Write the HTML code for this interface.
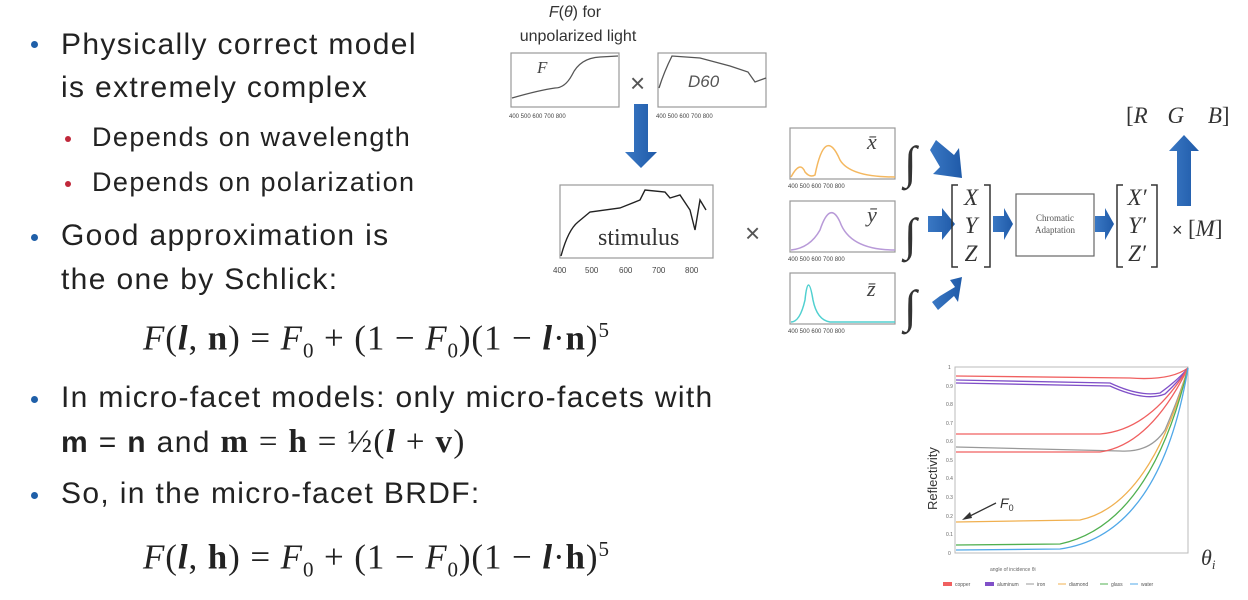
<!DOCTYPE html>
<html><head><meta charset="utf-8"><style>
body{margin:0;width:1248px;height:600px;background:#fff;position:relative;overflow:hidden;font-family:"Liberation Sans",sans-serif;color:#222}
.t{position:absolute;font-size:30px;line-height:30px;white-space:nowrap;letter-spacing:1.35px}
.s{position:absolute;font-size:27px;line-height:27px;white-space:nowrap;letter-spacing:1.4px}
.b{position:absolute;width:7px;height:7px;border-radius:50%;background:#1f5fa8}
.r{position:absolute;width:6px;height:6px;border-radius:50%;background:#c0283a}
.m{position:absolute;font-family:"Liberation Serif",serif;font-size:35px;line-height:35px;white-space:nowrap;letter-spacing:0.9px}
</style></head><body>
<div class="b" style="left:31px;top:41px"></div>
<div class="t" style="left:61px;top:30px">Physically correct model</div>
<div class="t" style="left:61px;top:73px">is extremely complex</div>
<div class="r" style="left:65px;top:136px"></div>
<div class="s" style="left:92px;top:124px">Depends on wavelength</div>
<div class="r" style="left:65px;top:181px"></div>
<div class="s" style="left:92px;top:169px">Depends on polarization</div>
<div class="b" style="left:31px;top:234px"></div>
<div class="t" style="left:61px;top:221px">Good approximation is</div>
<div class="t" style="left:61px;top:265px">the one by Schlick:</div>
<div class="m" style="left:143px;top:313px"><i>F</i>(<b><i>l</i></b>, <b>n</b>) = <i>F</i><sub style="font-size:21px">0</sub> + (1 − <i>F</i><sub style="font-size:21px">0</sub>)(1 − <b><i>l</i></b>·<b>n</b>)<sup style="font-size:21px">5</sup></div>
<div class="b" style="left:31px;top:396px"></div>
<div class="t" style="left:61px;top:383px">In micro-facet models: only micro-facets with</div>
<div class="t" style="left:61px;top:427px"><b>m</b> = <b>n</b> and <span style="font-family:'Liberation Serif',serif;font-size:33px"><b>m</b> = <b>h</b> = ½(<b><i>l</i></b> + <b>v</b>)</span></div>
<div class="b" style="left:31px;top:492px"></div>
<div class="t" style="left:61px;top:479px">So, in the micro-facet BRDF:</div>
<div class="m" style="left:143px;top:532px"><i>F</i>(<b><i>l</i></b>, <b>h</b>) = <i>F</i><sub style="font-size:21px">0</sub> + (1 − <i>F</i><sub style="font-size:21px">0</sub>)(1 − <b><i>l</i></b>·<b>h</b>)<sup style="font-size:21px">5</sup></div>

<svg width="1248" height="600" style="position:absolute;left:0;top:0" font-family="Liberation Serif, serif">
<defs><linearGradient id="g" x1="0" x2="1"><stop offset="0" stop-color="#3a78c4"/><stop offset="1" stop-color="#1f5aa8"/></linearGradient></defs>
<text x="575" y="17" font-family="Liberation Sans" font-size="16" text-anchor="middle" fill="#333"><tspan font-style="italic">F</tspan>(<tspan font-style="italic">θ</tspan>) for</text>
<text x="578" y="41" font-family="Liberation Sans" font-size="16" text-anchor="middle" fill="#333">unpolarized light</text>
<g fill="none" stroke="#999" stroke-width="1.2">
<rect x="511" y="53" width="108" height="54"/><rect x="658" y="53" width="108" height="54"/>
<rect x="560" y="185" width="153" height="73"/>
<rect x="790" y="128" width="105" height="51"/><rect x="790" y="201" width="105" height="51"/><rect x="790" y="273" width="105" height="51"/>
<rect x="1016" y="194" width="78" height="62" stroke="#666"/>
</g>
<path d="M512 98 Q540 90 555 88 Q565 88 572 75 Q580 58 600 57 L618 56" stroke="#555" fill="none" stroke-width="1.3"/>
<path d="M659 88 Q664 72 672 56 L700 58 L730 66 L748 72 L755 82 L766 78" stroke="#555" fill="none" stroke-width="1.3"/>
<path d="M561 256 Q568 230 578 222 L590 212 L620 208 L640 200 L645 190 L665 192 L670 198 L680 195 L690 210 L695 230 L700 200 L706 210" stroke="#222" fill="none" stroke-width="1.4"/>
<path d="M791 177 Q800 160 805 172 Q810 178 815 175 Q825 125 840 160 Q850 177 895 177" stroke="#f4b860" fill="none" stroke-width="1.5"/>
<path d="M791 250 Q810 248 820 230 Q830 200 840 222 Q850 250 895 250" stroke="#b89ad8" fill="none" stroke-width="1.5"/>
<path d="M791 322 Q800 322 805 300 Q808 270 813 300 Q817 320 830 322 L895 322" stroke="#50d0d0" fill="none" stroke-width="1.5"/>
<text x="537" y="73" font-size="17" font-style="italic" fill="#444">F</text>
<text x="688" y="87" font-family="Liberation Sans" font-size="17" font-style="italic" fill="#555">D60</text>
<text x="598" y="245" font-size="24" fill="#333">stimulus</text>
<g font-family="Liberation Sans" font-size="8" fill="#444">
<text x="553" y="273">400</text><text x="585" y="273">500</text><text x="619" y="273">600</text><text x="652" y="273">700</text><text x="685" y="273">800</text>
<text x="509" y="118" font-size="6">400 500 600 700 800</text><text x="656" y="118" font-size="6">400 500 600 700 800</text>
<text x="788" y="188" font-size="6">400 500 600 700 800</text><text x="788" y="261" font-size="6">400 500 600 700 800</text><text x="788" y="333" font-size="6">400 500 600 700 800</text>
</g>
<text x="630" y="92" font-family="Liberation Sans" font-size="26" fill="#555">×</text>
<text x="745" y="242" font-family="Liberation Sans" font-size="26" fill="#555">×</text>
<text x="867" y="149" font-size="22" font-style="italic" fill="#444">x̄</text>
<text x="867" y="222" font-size="22" font-style="italic" fill="#444">ȳ</text>
<text x="867" y="296" font-size="22" font-style="italic" fill="#444">z̄</text>
<g font-size="46" fill="#333" font-style="italic"><text x="904" y="178">∫</text><text x="904" y="250">∫</text><text x="904" y="322">∫</text></g>
<g fill="url(#g)">
<path d="M634 104 H648 V152 H657 L641 168 L625 152 H634 Z"/>
<path d="M930 150 L936 140 L954 155 L959 148 L962 178 L933 174 L940 167 Z"/>
<path d="M928 216 H942 V208 L955 224 L942 240 V232 H928 Z"/>
<path d="M932 302 L940 296 L955 287 L950 280 L962 277 L958 302 L954 296 L938 310 Z"/>
<path d="M993 216 H1004 V208 L1013 224 L1004 240 V232 H993 Z"/>
<path d="M1095 216 H1105 V208 L1114 224 L1105 240 V232 H1095 Z"/>
<path d="M1177 206 V151 H1169 L1184 135 L1199 151 H1191 V206 Z"/>
</g>
<g fill="none" stroke="#333" stroke-width="1.5">
<path d="M958 185 H952 V267 H958"/><path d="M984 185 H990 V267 H984"/>
<path d="M1123 185 H1117 V267 H1123"/><path d="M1151 185 H1157 V267 H1151"/>
</g>
<g font-size="23" font-style="italic" fill="#333" text-anchor="middle">
<text x="971" y="205">X</text><text x="971" y="233">Y</text><text x="971" y="261">Z</text>
<text x="1137" y="205">X′</text><text x="1137" y="233">Y′</text><text x="1137" y="261">Z′</text>
</g>
<text x="1055" y="221" font-size="9" text-anchor="middle" fill="#555">Chromatic</text>
<text x="1055" y="233" font-size="9" text-anchor="middle" fill="#555">Adaptation</text>
<text x="1172" y="236" font-family="Liberation Sans" font-size="18" fill="#333">×</text>
<text x="1188" y="236" font-size="23" fill="#333">[<tspan font-style="italic">M</tspan>]</text>
<text x="1126" y="123" font-size="23" fill="#333">[<tspan font-style="italic">R</tspan>  <tspan dx="14" font-style="italic">G</tspan> <tspan dx="18" font-style="italic">B</tspan>]</text>
<rect x="955" y="367" width="233" height="186" fill="none" stroke="#bbb"/>
<g font-family="Liberation Sans" font-size="5" fill="#666">
<text x="948" y="369">1</text><text x="946" y="388">0.9</text><text x="946" y="406">0.8</text><text x="946" y="425">0.7</text><text x="946" y="443">0.6</text><text x="946" y="462">0.5</text><text x="946" y="480">0.4</text><text x="946" y="499">0.3</text><text x="946" y="518">0.2</text><text x="946" y="536">0.1</text><text x="948" y="555">0</text>
<text x="990" y="571">angle of incidence θi</text>
</g>
<text x="937" y="560" font-family="Liberation Sans" font-size="13" fill="#333" transform="rotate(-90 937 560)" dx="50" dy="0">Reflectivity</text>
<g fill="none" stroke-width="1.3">
<path d="M956 376 L1130 378 Q1170 381 1188 368" stroke="#f06060"/>
<path d="M956 380 L1110 383 Q1140 397 1160 393 Q1178 380 1188 368" stroke="#8050c8"/>
<path d="M956 383 L1110 386 Q1145 402 1165 394 Q1180 380 1188 368" stroke="#8050c8"/>
<path d="M956 434 L1100 434 Q1150 430 1188 368" stroke="#f06060"/>
<path d="M956 447 L1120 451 Q1150 453 1165 430 Q1180 395 1188 368" stroke="#999"/>
<path d="M956 452 L1100 452 Q1150 445 1188 368" stroke="#f06060"/>
<path d="M956 522 L1080 520 Q1150 505 1188 368" stroke="#f0b050"/>
<path d="M956 545 L1060 544 Q1150 525 1188 368" stroke="#50b050"/>
<path d="M956 550 L1060 549 Q1160 535 1188 368" stroke="#50a8e8"/>
</g>
<path d="M996 503 L966 518" stroke="#333" stroke-width="1.3"/><path d="M962 520 L970 512 L972 518 Z" fill="#333"/>
<text x="1000" y="508" font-family="Liberation Sans" font-size="14" fill="#333"><tspan font-style="italic">F</tspan><tspan font-size="9" dy="3">0</tspan></text>
<text x="1201" y="565" font-size="22" font-style="italic" fill="#333">θ<tspan font-size="13" dy="4">i</tspan></text>
<g font-family="Liberation Sans" font-size="5" fill="#555">
<rect x="943" y="582" width="9" height="4" fill="#f06060"/><text x="955" y="586">copper</text>
<rect x="985" y="582" width="9" height="4" fill="#8050c8"/><text x="997" y="586">aluminum</text>
<line x1="1026" y1="584" x2="1034" y2="584" stroke="#999"/><text x="1037" y="586">iron</text>
<line x1="1058" y1="584" x2="1066" y2="584" stroke="#f0b050"/><text x="1069" y="586">diamond</text>
<line x1="1100" y1="584" x2="1108" y2="584" stroke="#50b050"/><text x="1111" y="586">glass</text>
<line x1="1130" y1="584" x2="1138" y2="584" stroke="#50a8e8"/><text x="1141" y="586">water</text>
</g>
</svg>
</body></html>
